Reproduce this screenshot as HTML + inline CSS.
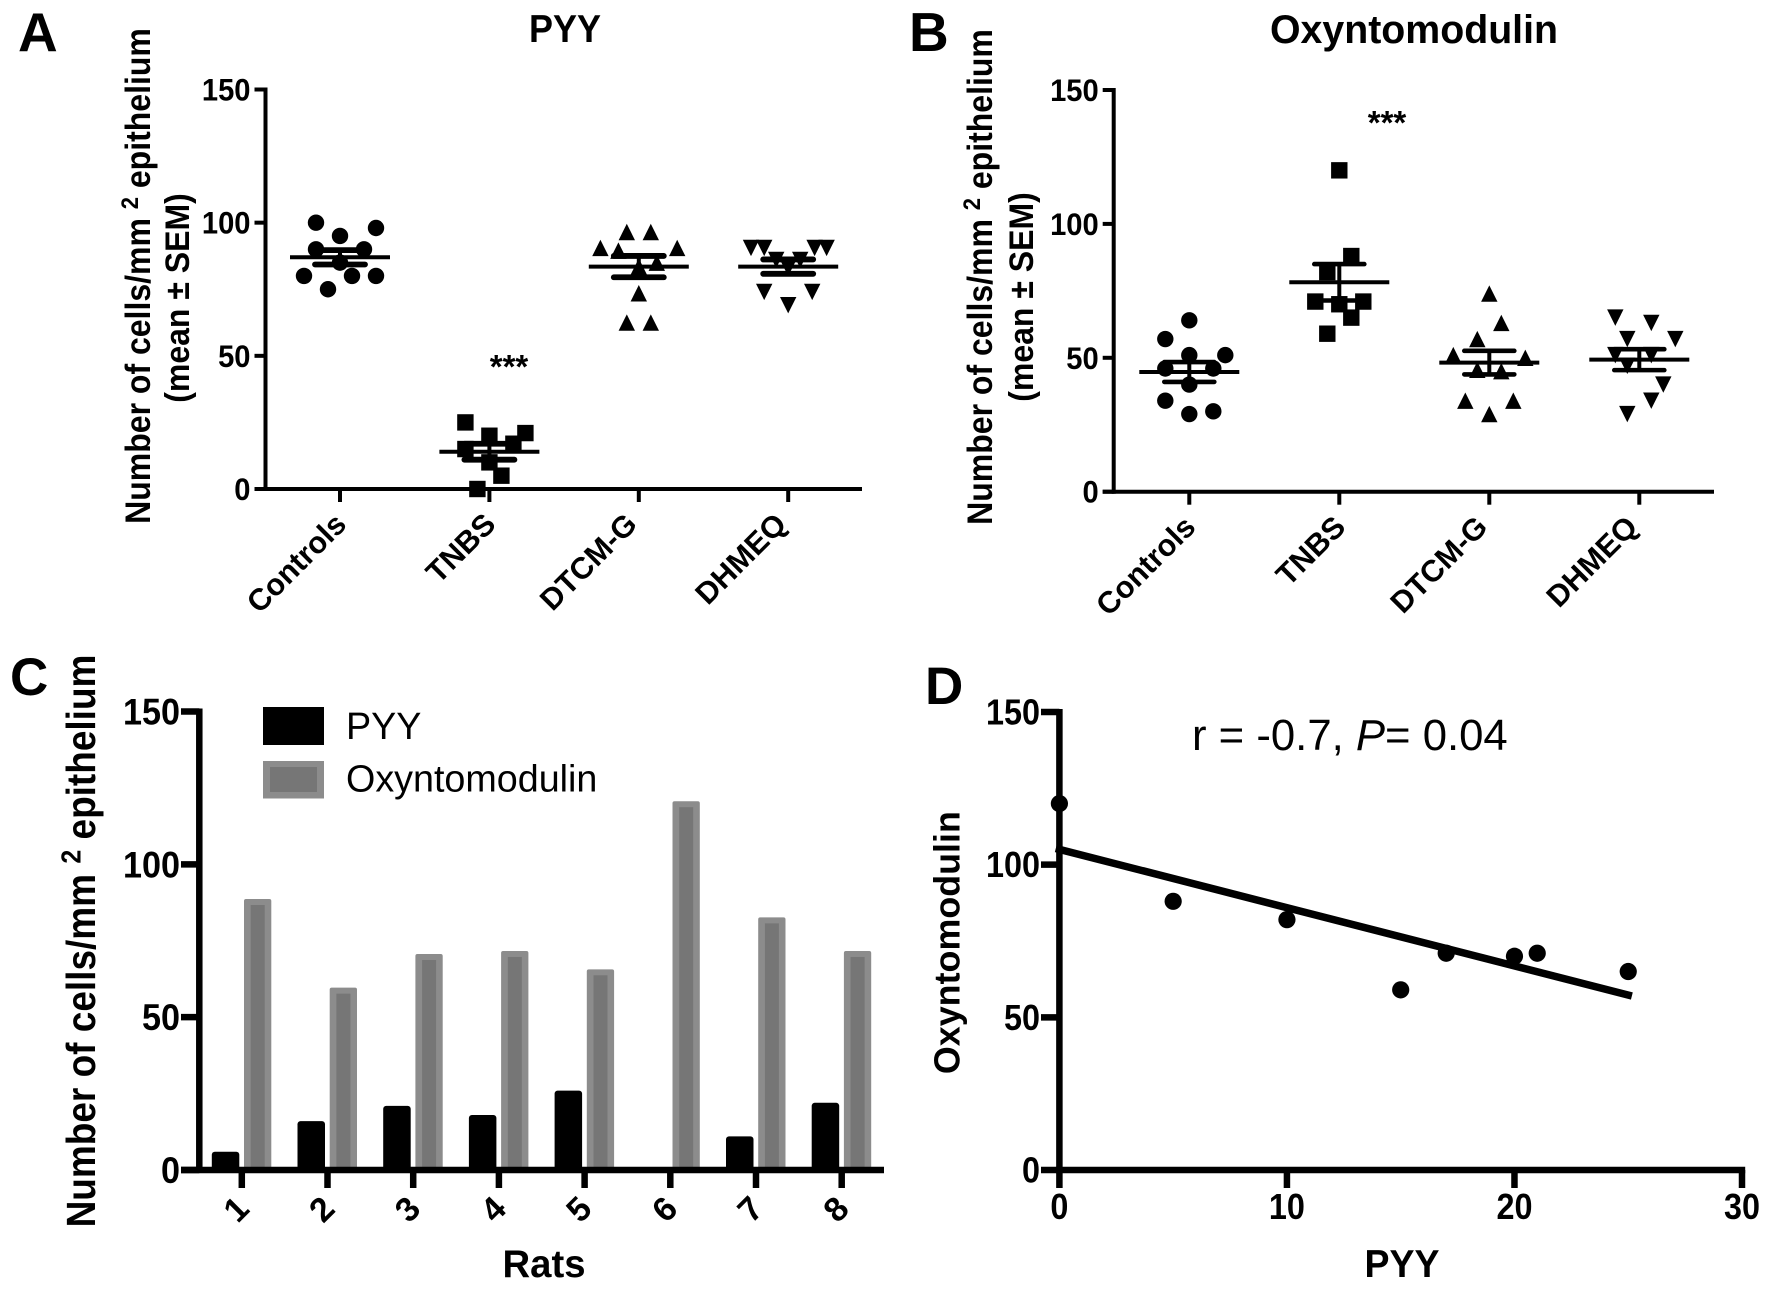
<!DOCTYPE html>
<html lang="en">
<head>
<meta charset="utf-8">
<title>PYY and Oxyntomodulin cell counts</title>
<style>
html,body{margin:0;padding:0;background:#fff;}
svg{display:block;}
text{font-family:"Liberation Sans",sans-serif;fill:#000;}
.b{font-weight:700;}
</style>
</head>
<body>
<svg id="fig" xmlns="http://www.w3.org/2000/svg" width="1772" height="1290" viewBox="0 0 1772 1290">
  <rect width="1772" height="1290" fill="#fff"/>

  <text class="b" x="18" y="51" font-size="55">A</text>
  <text class="b" x="909" y="51" font-size="55">B</text>
  <text class="b" x="10" y="695" font-size="53">C</text>
  <text class="b" x="925" y="704" font-size="53">D</text>

  <text class="b" x="565" y="42" font-size="39" text-anchor="middle" textLength="72" lengthAdjust="spacingAndGlyphs">PYY</text>
  <text class="b" x="1414" y="43" font-size="40" text-anchor="middle" textLength="288" lengthAdjust="spacingAndGlyphs">Oxyntomodulin</text>

  <text class="b" transform="translate(150,276) rotate(-90) scale(1,1.1)" font-size="32" text-anchor="middle">Number of cells/mm <tspan font-size="22" dy="-11">2</tspan><tspan dy="11"> epithelium</tspan></text>
  <text class="b" transform="translate(189,298) rotate(-90) scale(1,1.08)" font-size="32" text-anchor="middle">(mean ± SEM)</text>

  <text class="b" transform="translate(992,277) rotate(-90) scale(1,1.1)" font-size="32" text-anchor="middle">Number of cells/mm <tspan font-size="22" dy="-11">2</tspan><tspan dy="11"> epithelium</tspan></text>
  <text class="b" transform="translate(1033,297) rotate(-90) scale(1,1.08)" font-size="32" text-anchor="middle">(mean ± SEM)</text>

  <text class="b" transform="translate(95,941) rotate(-90) scale(1,1.1)" font-size="37" text-anchor="middle">Number of cells/mm <tspan font-size="25" dy="-13">2</tspan><tspan dy="13"> epithelium</tspan></text>
  <text class="b" x="544" y="1277" font-size="39" text-anchor="middle" textLength="83" lengthAdjust="spacingAndGlyphs">Rats</text>

  <text class="b" transform="translate(959.4,942.6) rotate(-90)" font-size="36" text-anchor="middle" textLength="263" lengthAdjust="spacingAndGlyphs">Oxyntomodulin</text>
  <text class="b" x="1402" y="1277" font-size="39" text-anchor="middle" textLength="75" lengthAdjust="spacingAndGlyphs">PYY</text>
  <text x="1192" y="750" font-size="43.7">r = -0.7, <tspan font-style="italic">P</tspan>= 0.04</text>

  <g>
    <rect x="263" y="707" width="61" height="38" fill="#000"/>
    <text x="346" y="739" font-size="37.7">PYY</text>
    <rect x="263" y="761" width="61" height="37.5" fill="#8c8c8c"/>
    <rect x="270" y="767" width="47" height="25" fill="#767676"/>
    <text x="346" y="791.5" font-size="37.7">Oxyntomodulin</text>
  </g>

  <g id="panelA"></g>
  <g id="panelB"></g>
  <g id="panelC"></g>
  <g id="panelD"></g>
</svg>

<script>
// ---- shared categories and ticks ----
const groupLabels = ['Controls', 'TNBS', 'DTCM-G', 'DHMEQ'];
const scatterYTicks = [0, 50, 100, 150];

// ---- Panel A: PYY group values, swarm slots, means, SEMs ----
const pyyControls = [100, 98, 95, 90, 90, 85, 80, 80, 80, 75];
const pyyControlsSlots = [-2, 3, 0, -2, 2, 0, -3, 1, 3, -1];
const pyyTnbs = [25, 20, 21, 17, 15, 10, 5, 0];
const pyyTnbsSlots = [-2, 0, 3, 2, -2, 0, 1, -1];
const pyyDtcm = [96.5, 96.5, 90.5, 89.5, 90.5, 85, 83.5, 73.5, 62.5, 62.5];
const pyyDtcmSlots = [-1, 1, -3.2, -1.7, 3.2, 1.5, 0, 0, -1, 1];
const pyyDhmeq = [90.5, 90.5, 90.5, 90.5, 86, 86, 83, 74, 74, 69];
const pyyDhmeqSlots = [-3.1, -2, 2.2, 3.2, -1, 1, 0, -2, 2, 0];
const pyyMeans = [87, 14, 83.5, 83.5];
const pyySems = [2.7, 3, 4, 2.7];

// ---- Panel B: Oxyntomodulin group values, swarm slots, means, SEMs ----
const oxyControls = [64, 57, 51, 51, 46, 46, 40, 34, 29, 30];
const oxyControlsSlots = [0, -2, 0, 3, -2, 2, 0, -2, 0, 2];
const oxyTnbs = [120, 88, 82, 71, 71, 70, 65, 59];
const oxyTnbsSlots = [0, 1, -1, -2, 2, 0, 1, -1];
const oxyDtcm = [74, 63, 57, 51, 50, 45.5, 45, 34, 34, 29];
const oxyDtcmSlots = [0, 1, -1, -3, 3, -1, 1, -2, 2, 0];
const oxyDhmeq = [65, 63, 57, 57, 51, 51, 47, 40, 34, 29];
const oxyDhmeqSlots = [-2, 1, -1, 3, -2, 1, -1, 2, 1, -1];
const oxyMeans = [44.7, 78.2, 48.2, 49.3];
const oxySems = [3.7, 6.8, 4.4, 3.9];

// ---- Panel C: per-rat bars ----
const ratLabels = ['1', '2', '3', '4', '5', '6', '7', '8'];
const ratPyy = [5, 15, 20, 17, 25, 0, 10, 21];
const ratOxy = [88, 59, 70, 71, 65, 120, 82, 71];
const barYTicks = [0, 50, 100, 150];

// ---- Panel D: correlation ----
const corrPyy = [5, 15, 20, 17, 25, 0, 10, 21];
const corrOxy = [88, 59, 70, 71, 65, 120, 82, 71];
const fitPyy = [0, 25];
const fitOxy = [105, 57.3];
const corrXTicks = [0, 10, 20, 30];
const corrYTicks = [0, 50, 100, 150];

const NS = 'http://www.w3.org/2000/svg';
function mk(parent, tag, props) {
  const e = document.createElementNS(NS, tag);
  for (const k in props) e.setAttribute(k, props[k]);
  parent.appendChild(e);
  return e;
}
function lineEl(parent, x1, y1, x2, y2, w, cap) {
  return mk(parent, 'line', { x1: x1, y1: y1, x2: x2, y2: y2, stroke: '#000', 'stroke-width': w, 'stroke-linecap': cap || 'butt' });
}

function drawMarker(parent, shape, cx, cy) {
  const s = 8.2;
  if (shape === 'circle') return mk(parent, 'circle', { cx: cx, cy: cy, r: s, fill: '#000' });
  if (shape === 'square') return mk(parent, 'rect', { x: cx - s, y: cy - s, width: 2 * s, height: 2 * s, fill: '#000' });
  const dir = shape === 'up' ? 1 : -1;
  const pts = [[cx, cy - dir * s], [cx - s, cy + dir * s], [cx + s, cy + dir * s]].map(function (p) { return p.join(','); }).join(' ');
  return mk(parent, 'polygon', { points: pts, fill: '#000' });
}

function drawScatterPanel(root, name, geo, series, slots, means, sems, starGroup) {
  const yScale = function (v) { return geo.y0 - v * (geo.y0 - geo.y150) / 150; };
  const xScale = function (i) { return geo.x0 + i * geo.step; };
  const shapes = ['circle', 'square', 'up', 'down'];
  const labelShift = [8, 8, 0, 0];

  const yAxis = lineEl(root, geo.axisX, geo.y150 - 2, geo.axisX, geo.y0 + 2, 4);
  
  
  const xAxis = lineEl(root, geo.axisX - 11, geo.y0, geo.xEnd, geo.y0, 4);
  
  

  scatterYTicks.forEach(function (t) {
    const tick = lineEl(root, geo.axisX - 11, yScale(t), geo.axisX, yScale(t), 4);
    
    
    const lab = mk(root, 'text', { x: geo.axisX - 15, y: yScale(t) + 11, 'font-size': 31.5, 'font-weight': 700, 'text-anchor': 'end', textLength: String(t).length * 16.2, lengthAdjust: 'spacingAndGlyphs' });
    lab.textContent = t;
    
    
  });

  groupLabels.forEach(function (label, i) {
    const x = xScale(i);
    const tick = lineEl(root, x, geo.y0, x, geo.y0 + 13, 4);
    
    
    const ax = x + labelShift[i], ay = geo.y0 + 37;
    const lab = mk(root, 'text', { x: ax, y: ay, 'font-size': 30.5, 'font-weight': 700, 'text-anchor': 'end', transform: 'rotate(-45 ' + ax + ' ' + ay + ')' });
    lab.textContent = label;
    
    

    series[i].forEach(function (v, k) {
      const m = drawMarker(root, shapes[i], x + slots[i][k] * 12, yScale(v));
      
      
    });

    const my = yScale(means[i]);
    const up = yScale(means[i] + sems[i]);
    const lo = yScale(means[i] - sems[i]);
    const meanLine = lineEl(root, x - 50, my, x + 50, my, 4);
    
    
    const stem = lineEl(root, x, up, x, lo, 4);
    
    
    const capTop = lineEl(root, x - 25, up, x + 25, up, geo.capW, 'round');
    
    
    const capBot = lineEl(root, x - 25, lo, x + 25, lo, geo.capW, 'round');
    
    
  });

  const star = mk(root, 'text', { x: starGroup.x, y: starGroup.y, 'font-size': 33, 'font-weight': 700, 'text-anchor': 'middle' });
  star.textContent = '***';
  
  
}

drawScatterPanel(document.getElementById('panelA'), 'panel-a',
  { axisX: 265.5, xEnd: 862, y0: 489, y150: 89.5, x0: 340, step: 149.4, capW: 5.8 },
  [pyyControls, pyyTnbs, pyyDtcm, pyyDhmeq],
  [pyyControlsSlots, pyyTnbsSlots, pyyDtcmSlots, pyyDhmeqSlots],
  pyyMeans, pyySems, { x: 509, y: 378 });

drawScatterPanel(document.getElementById('panelB'), 'panel-b',
  { axisX: 1113.7, xEnd: 1714, y0: 491.7, y150: 90, x0: 1189.3, step: 150, capW: 4.6 },
  [oxyControls, oxyTnbs, oxyDtcm, oxyDhmeq],
  [oxyControlsSlots, oxyTnbsSlots, oxyDtcmSlots, oxyDhmeqSlots],
  oxyMeans, oxySems, { x: 1387, y: 134 });

// ---- Panel C ----
(function () {
  const root = document.getElementById('panelC');
  const y0 = 1170, y150 = 711.5;
  const yScale = function (v) { return y0 - v * (y0 - y150) / 150; };
  const xScale = function (i) { return 241.8 + i * 85.7; };

  ratLabels.forEach(function (label, i) {
    const x = xScale(i);
    const py = yScale(ratPyy[i]) - 3;
    if (ratPyy[i] > 0) {
      const barP = mk(root, 'rect', { x: x - 30, y: py, width: 27.5, height: y0 - py, rx: 3, fill: '#000' });
      
      
    }
    const oy = yScale(ratOxy[i]) - 2;
    const barO = mk(root, 'rect', { x: x + 2.2, y: oy, width: 27.3, height: y0 - oy, rx: 2, fill: '#8c8c8c' });
    
    
    const barI = mk(root, 'rect', { x: x + 8.9, y: oy + 6, width: 14, height: y0 - oy - 6, fill: '#767676' });
    
    
    const tick = lineEl(root, x, y0, x, y0 + 18, 6.5);
    
    
    const cx = x - 6, cy = 1209;
    const lab = mk(root, 'text', { x: cx, y: cy + 12, 'font-size': 34, 'font-weight': 700, 'text-anchor': 'middle', transform: 'rotate(-45 ' + cx + ' ' + cy + ')' });
    lab.textContent = label;
    
    
  });

  const yAxis = lineEl(root, 199.3, y150 - 3, 199.3, y0 + 3, 6.5);
  
  
  const xAxis = lineEl(root, 181, y0, 884, y0, 6.5);
  
  

  barYTicks.forEach(function (t) {
    const tick = lineEl(root, 181, yScale(t), 199.3, yScale(t), 6.5);
    
    
    const lab = mk(root, 'text', { x: 180, y: yScale(t) + 13, 'font-size': 37, 'font-weight': 700, 'text-anchor': 'end', textLength: String(t).length * 19, lengthAdjust: 'spacingAndGlyphs' });
    lab.textContent = t;
    
    
  });
})();

// ---- Panel D ----
(function () {
  const root = document.getElementById('panelD');
  const y0 = 1170, y150 = 712;
  const x0 = 1059.4, x30 = 1742;
  const yScale = function (v) { return y0 - v * (y0 - y150) / 150; };
  const xScale = function (v) { return x0 + v * (x30 - x0) / 30; };

  const yAxis = lineEl(root, x0, y150 - 3, x0, y0 + 3, 6.5);
  
  
  const xAxis = lineEl(root, x0 - 3.5, y0, x30 + 3.2, y0, 6.5);
  
  

  corrYTicks.forEach(function (t) {
    const tick = lineEl(root, 1041, yScale(t), x0, yScale(t), 6.5);
    
    
    const lab = mk(root, 'text', { x: 1040, y: yScale(t) + 12.5, 'font-size': 36, 'font-weight': 700, 'text-anchor': 'end', textLength: String(t).length * 18, lengthAdjust: 'spacingAndGlyphs' });
    lab.textContent = t;
    
    
  });

  corrXTicks.forEach(function (t) {
    const tick = lineEl(root, xScale(t), y0, xScale(t), y0 + 18, 6.5);
    
    
    const lab = mk(root, 'text', { x: xScale(t), y: 1219, 'font-size': 36, 'font-weight': 700, 'text-anchor': 'middle', textLength: String(t).length * 18, lengthAdjust: 'spacingAndGlyphs' });
    lab.textContent = t;
    
    
  });

  const fit = lineEl(root, xScale(fitPyy[0]), yScale(fitOxy[0]), xScale(fitPyy[1]), yScale(fitOxy[1]), 7.5, 'square');
  
  

  corrPyy.forEach(function (v, i) {
    const p = mk(root, 'circle', { cx: xScale(v), cy: yScale(corrOxy[i]), r: 8.6, fill: '#000' });
    
    
  });
})();
</script>
</body>
</html>
